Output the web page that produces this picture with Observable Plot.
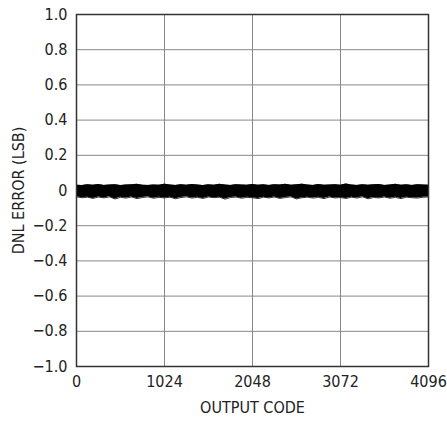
<!DOCTYPE html>
<html>
<head>
<meta charset="utf-8">
<script src="https://cdn.jsdelivr.net/npm/d3@7"></script>
<script src="https://cdn.jsdelivr.net/npm/@observablehq/plot@0.6"></script>
<style>
  html, body { margin: 0; padding: 0; background: #fff; }
  #chart svg { display: block; font-stretch: condensed; }
</style>
</head>
<body>
<div id="chart"></div>
<script>
// Output codes at which the band envelope was read (every 64 codes)
const codeStep = 64;
// Upper envelope of the DNL error band (LSB)
const dnlUpper = [
  0.030, 0.028, 0.033, 0.030, 0.034, 0.029, 0.031, 0.033, 0.028, 0.031, 0.032, 0.035, 0.030, 0.029, 0.031, 0.030,
  0.036, 0.031, 0.029, 0.033, 0.030, 0.034, 0.031, 0.028, 0.032, 0.030, 0.035, 0.031, 0.029, 0.033, 0.031, 0.030,
  0.034, 0.030, 0.032, 0.029, 0.033, 0.031, 0.035, 0.030, 0.032, 0.036, 0.031, 0.029, 0.034, 0.030, 0.031, 0.033,
  0.030, 0.037, 0.031, 0.029, 0.033, 0.030, 0.032, 0.034, 0.029, 0.031, 0.035, 0.030, 0.032, 0.029, 0.033, 0.031,
  0.030
];
// Lower envelope of the DNL error band (LSB)
const dnlLower = [
  -0.036, -0.041, -0.038, -0.045, -0.037, -0.042, -0.036, -0.048, -0.039, -0.043, -0.037, -0.046, -0.040, -0.036, -0.044, -0.039,
  -0.042, -0.038, -0.047, -0.040, -0.036, -0.043, -0.039, -0.045, -0.037, -0.041, -0.038, -0.049, -0.040, -0.037, -0.044, -0.039,
  -0.041, -0.046, -0.038, -0.042, -0.037, -0.045, -0.040, -0.036, -0.048, -0.041, -0.038, -0.043, -0.039, -0.046, -0.037, -0.042,
  -0.040, -0.045, -0.038, -0.043, -0.036, -0.047, -0.040, -0.042, -0.037, -0.044, -0.039, -0.046, -0.038, -0.041, -0.043, -0.038,
  -0.037
];
const xTicks = [0, 1024, 2048, 3072, 4096];
const xTickLabels = ["0", "1024", "2048", "3072", "4096"];
const yTicks = [1.0, 0.8, 0.6, 0.4, 0.2, 0, -0.2, -0.4, -0.6, -0.8, -1.0];
const yTickLabels = ["1.0", "0.8", "0.6", "0.4", "0.2", "0", "\u22120.2", "\u22120.4", "\u22120.6", "\u22120.8", "\u22121.0"];
const xTitle = "OUTPUT CODE";
const yTitle = "DNL ERROR (LSB)";

const band = dnlUpper.map((u, i) => ({code: i * codeStep, hi: u, lo: dnlLower[i]}));

const font = "'Liberation Sans Narrow', 'DejaVu Sans Condensed', 'Liberation Sans', Arial, sans-serif";

const chart = Plot.plot({
  width: 447,
  height: 423,
  marginLeft: 76,
  marginRight: 19,
  marginTop: 14,
  marginBottom: 57,
  style: {fontFamily: font, fontSize: "16px", color: "#222", background: "#fff"},
  x: {domain: [0, 4096], ticks: xTicks},
  y: {domain: [-1, 1], ticks: yTicks},
  marks: [
    Plot.gridX(xTicks, {stroke: "#888", strokeOpacity: 1, strokeWidth: 1}),
    Plot.gridY(yTicks, {stroke: "#888", strokeOpacity: 1, strokeWidth: 1}),
    Plot.areaY(band, {x: "code", y1: "lo", y2: "hi", fill: "#000", curve: "linear"}),
    Plot.line(band, {x: "code", y: "hi", stroke: "#000", strokeWidth: 0.8}),
    Plot.line(band, {x: "code", y: "lo", stroke: "#000", strokeWidth: 0.8}),
    Plot.frame({stroke: "#333", strokeWidth: 1.5}),
    Plot.axisX(xTicks, {tickSize: 0, tickPadding: 9, tickFormat: (d, i) => xTickLabels[i], label: xTitle, labelAnchor: "center", labelOffset: 46, labelArrow: "none", fill: "#222"}),
    Plot.axisY(yTicks, {tickSize: 0, tickPadding: 9, tickFormat: (d, i) => yTickLabels[i], label: yTitle, labelAnchor: "center", labelOffset: 64, labelArrow: "none", fill: "#222"})
  ]
});
document.getElementById("chart").appendChild(chart);
</script>
</body>
</html>
